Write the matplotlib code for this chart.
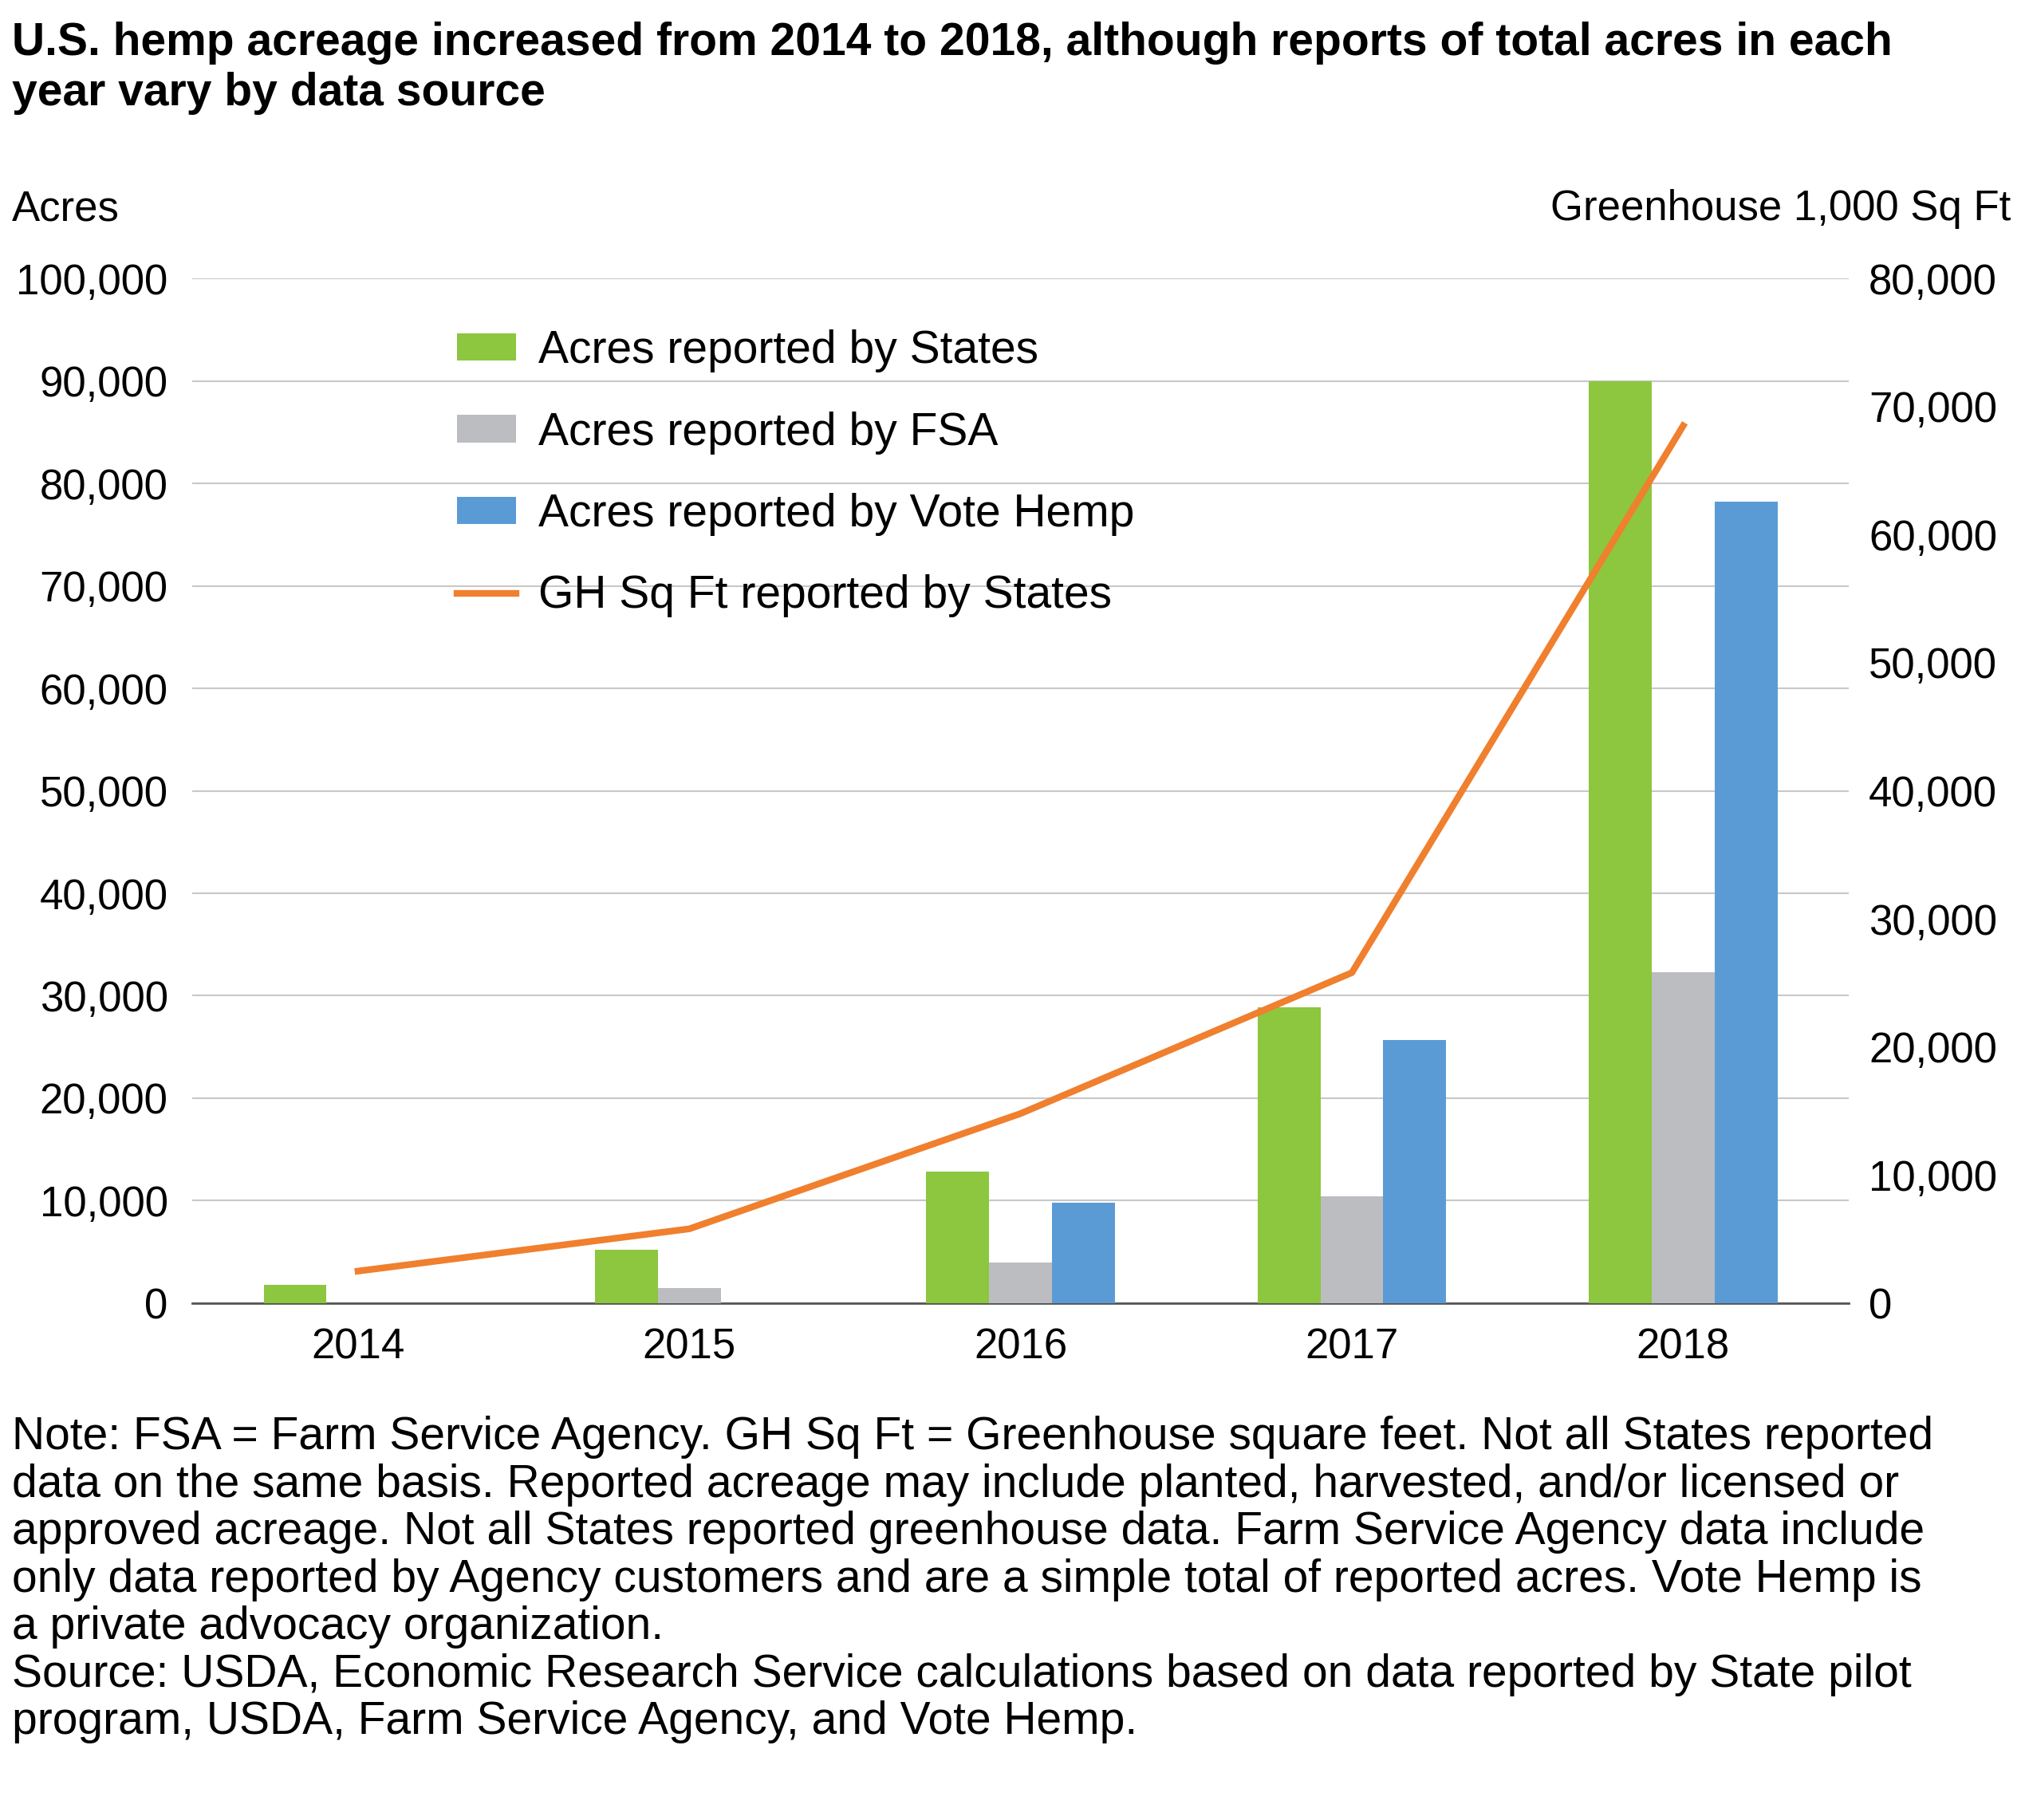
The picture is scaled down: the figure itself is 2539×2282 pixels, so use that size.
import matplotlib.pyplot as plt
import numpy as np

plt.rcParams['font.family'] = ['Liberation Sans', 'DejaVu Sans']

years = ["2014", "2015", "2016", "2017", "2018"]
acres_states = [1800, 5200, 12800, 28900, 90000]
acres_fsa = [0, 1500, 4000, 10400, 32300]
acres_vote_hemp = [0, 0, 9770, 25700, 78200]
gh_sqft_states = [2500, 5800, 14800, 25800, 68500]

fig = plt.figure(figsize=(25.39, 22.82), dpi=100)
ax = fig.add_axes([0.095, 0.284, 0.818, 0.563])
ax2 = ax.twinx()

x = np.arange(len(years))
w = 0.19
ax.bar(x - w, acres_states, w, color="#8dc63f", label="Acres reported by States", zorder=3)
ax.bar(x, acres_fsa, w, color="#bcbdc0", label="Acres reported by FSA", zorder=3)
ax.bar(x + w, acres_vote_hemp, w, color="#5b9bd5", label="Acres reported by Vote Hemp", zorder=3)
ax2.plot(x, gh_sqft_states, color="#f07f2e", lw=6, label="GH Sq Ft reported by States", zorder=4)

ax.set_xlim(-0.5, 4.5)
ax.set_ylim(0, 100000)
ax2.set_ylim(0, 80000)
ax.set_yticks(np.arange(0, 100001, 10000))
ax2.set_yticks(np.arange(0, 80001, 10000))
ax.yaxis.set_major_formatter(plt.FuncFormatter(lambda v, p: f"{int(v):,}"))
ax2.yaxis.set_major_formatter(plt.FuncFormatter(lambda v, p: f"{int(v):,}"))
ax.set_xticks(x)
ax.set_xticklabels(years)
ax.grid(axis="y", color="#c8c8c8", lw=1.5, zorder=0)
for a in (ax, ax2):
    for s in a.spines.values():
        s.set_visible(False)
    a.tick_params(length=0, labelsize=38, pad=14)
ax.spines["bottom"].set_visible(True)
ax.spines["bottom"].set_color("#555555")
ax.spines["bottom"].set_linewidth(2)
ax.tick_params(axis="y", pad=22)
ax2.tick_params(axis="y", pad=18)
ax.tick_params(axis="x", pad=22)

fig.text(0.006, 0.885, "Acres", fontsize=38, va="center")
fig.text(0.993, 0.885, "Greenhouse 1,000 Sq Ft", fontsize=38, ha="right", va="center")
fig.text(0.006, 0.988, "U.S. hemp acreage increased from 2014 to 2018, although reports of total acres in each\nyear vary by data source",
         fontsize=41, fontweight="bold", va="top", linespacing=1.2)

h1, l1 = ax.get_legend_handles_labels()
h2, l2 = ax2.get_legend_handles_labels()
leg = ax2.legend(h1 + h2, l1 + l2, loc="upper left", bbox_to_anchor=(0.135, 0.99), frameon=False,
                 fontsize=41, labelspacing=0.85, handlelength=1.3, handleheight=0.55, handletextpad=0.5)

note = ("Note: FSA = Farm Service Agency. GH Sq Ft = Greenhouse square feet. Not all States reported\n"
        "data on the same basis. Reported acreage may include planted, harvested, and/or licensed or\n"
        "approved acreage. Not all States reported greenhouse data. Farm Service Agency data include\n"
        "only data reported by Agency customers and are a simple total of reported acres. Vote Hemp is\n"
        "a private advocacy organization.\n"
        "Source: USDA, Economic Research Service calculations based on data reported by State pilot\n"
        "program, USDA, Farm Service Agency, and Vote Hemp.")
fig.text(0.006, 0.222, note, fontsize=41, va="top", linespacing=1.13)

fig.savefig("out.png", dpi=100)
